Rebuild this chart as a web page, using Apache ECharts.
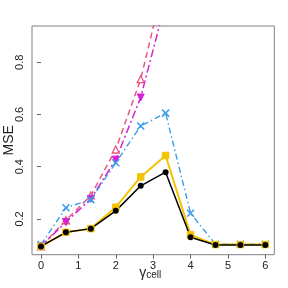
<!DOCTYPE html>
<html><head><meta charset="utf-8">
<script src="https://cdn.jsdelivr.net/npm/echarts@6/dist/echarts.min.js"></script>
<style>html,body{margin:0;padding:0;background:#fff}#c{width:288px;height:288px}</style>
</head><body><div id="c"></div>
<script>
var xs = [0, 0.667, 1.333, 2, 2.667, 3.333, 4, 4.667, 5.333, 6];
var blackVals = [0.095, 0.149, 0.163, 0.231, 0.327, 0.379, 0.130, 0.100, 0.100, 0.100];
var goldVals = [0.095, 0.149, 0.163, 0.245, 0.361, 0.443, 0.139, 0.102, 0.102, 0.102];
var blueVals = [0.102, 0.243, 0.274, 0.415, 0.556, 0.605, 0.222, 0.103, 0.103, 0.103];
var pinkVals = [0.095, 0.195, 0.290, 0.466, 0.735, 1.13];
var magentaVals = [0.095, 0.188, 0.277, 0.427, 0.665, 1.03];
var xTicks = [0, 1, 2, 3, 4, 5, 6];
var yTicks = [0.2, 0.4, 0.6, 0.8];

function pts(v){ return v.map(function(y,i){ return [xs[i], y]; }); }

var chart = echarts.init(document.getElementById('c'), null, {renderer:'canvas'});
var ff = 'Liberation Sans, Arial, sans-serif';
var axisTxt = {color:'#222', fontFamily:ff, fontSize:11};
var xMark = 'path://M0,0L10,10M10,0L0,10';
chart.setOption({
  animation:false,
  grid:{left:32, top:26, right:13.7, bottom:33.3, containLabel:false, outerBoundsMode:'none', show:true, borderColor:'#808080', borderWidth:1, backgroundColor:'transparent'},
  xAxis:{type:'value', min:-0.24, max:6.24,
    axisLine:{show:false}, splitLine:{show:false},
    axisTick:{show:true, inside:false, length:4, lineStyle:{color:'#666'}, customValues:xTicks},
    axisLabel:Object.assign({customValues:xTicks, margin:6, formatter:function(v){return String(v);}}, axisTxt),
    name:'{g|γ}{s|cell}', nameLocation:'middle', nameGap:10, nameMoveOverlap:false,
    nameTextStyle:{padding:[0,6,0,0], rich:{g:{fontSize:14, color:'#222', fontFamily:ff}, s:{fontSize:10, color:'#222', padding:[6,0,0,0], fontFamily:ff}}}
  },
  yAxis:{type:'value', min:0.0632, max:0.9387,
    axisLine:{show:false}, splitLine:{show:false},
    axisTick:{show:true, inside:false, length:4, lineStyle:{color:'#666'}, customValues:yTicks},
    axisLabel:Object.assign({customValues:yTicks, rotate:90, margin:7, formatter:function(v){return v.toFixed(1);}}, axisTxt),
    name:'MSE', nameLocation:'middle', nameGap:16, nameRotate:90, nameMoveOverlap:false,
    nameTextStyle:{fontSize:14, color:'#222', fontFamily:ff, verticalAlign:'bottom'}
  },
  series:[
    {type:'line', data:pts(pinkVals), clip:true, symbol:'triangle', symbolSize:7,
      lineStyle:{color:'#E8577E', width:1.5, type:[6,4]},
      itemStyle:{color:'#fff', borderColor:'#E8577E', borderWidth:1.3}},
    {type:'line', data:pts(magentaVals), clip:true, symbol:'triangle', symbolRotate:180, symbolSize:7,
      lineStyle:{color:'#D422D4', width:1.5, type:[8,3,2,3]},
      itemStyle:{color:'#D422D4', borderColor:'#D422D4', borderWidth:1}},
    {type:'line', data:pts(blueVals), clip:true, symbol:xMark, symbolSize:7,
      lineStyle:{color:'#3A9EEA', width:1.4, type:[6,3,1.5,3]},
      itemStyle:{color:'none', borderColor:'#3A9EEA', borderWidth:1.6}},
    {type:'line', data:pts(goldVals), clip:true, symbol:'rect', symbolSize:6.5,
      lineStyle:{color:'#F5C200', width:2},
      itemStyle:{color:'#F5C200', borderColor:'#F5C200'}},
    {type:'line', data:pts(blackVals), clip:true, symbol:'circle', symbolSize:6,
      lineStyle:{color:'#000', width:1.5},
      itemStyle:{color:'#000'}}
  ]
});
</script></body></html>
